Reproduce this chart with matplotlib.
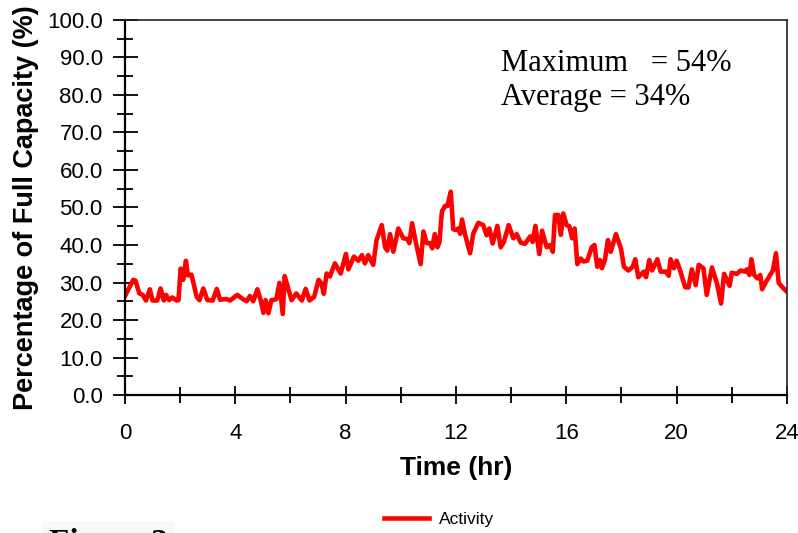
import matplotlib
matplotlib.use('Agg')
import matplotlib.pyplot as plt
from matplotlib.ticker import MultipleLocator

# activity values (hour, % of full capacity)
hours = [0.0, 0.3, 0.38, 0.52, 0.64, 0.76, 0.9, 1.0, 1.17, 1.29, 1.41, 1.49, 1.6, 1.72,
         1.87, 1.94, 2.02, 2.11, 2.21, 2.28, 2.41, 2.6, 2.7, 2.84, 2.99, 3.18, 3.33, 3.45,
         3.67, 3.81, 4.07, 4.27, 4.41, 4.53, 4.65, 4.8, 4.92, 5.02, 5.1, 5.2, 5.31, 5.43,
         5.49, 5.6, 5.72, 5.79, 5.92, 6.04, 6.21, 6.41, 6.55, 6.69, 6.86, 7.02, 7.12, 7.21,
         7.31, 7.43, 7.61, 7.82, 8.01, 8.1, 8.3, 8.46, 8.59, 8.7, 8.82, 9.0, 9.12, 9.31,
         9.43, 9.51, 9.61, 9.73, 9.91, 10.09, 10.24, 10.31, 10.41, 10.55, 10.72, 10.82,
         10.94, 11.06, 11.14, 11.23, 11.33, 11.4, 11.49, 11.6, 11.69, 11.81, 11.9, 12.0,
         12.09, 12.15, 12.22, 12.33, 12.51, 12.63, 12.81, 12.99, 13.11, 13.21, 13.33, 13.5,
         13.62, 13.74, 13.91, 14.08, 14.2, 14.35, 14.5, 14.69, 14.78, 14.88, 15.02, 15.12,
         15.29, 15.41, 15.51, 15.59, 15.71, 15.8, 15.89, 16.01, 16.11, 16.21, 16.3, 16.4,
         16.52, 16.62, 16.76, 16.92, 17.02, 17.12, 17.22, 17.29, 17.4, 17.51, 17.61, 17.8,
         17.98, 18.09, 18.25, 18.41, 18.5, 18.61, 18.81, 18.89, 19.01, 19.11, 19.3, 19.42,
         19.61, 19.71, 19.78, 19.9, 20.0, 20.14, 20.31, 20.43, 20.55, 20.69, 20.8, 20.97,
         21.09, 21.28, 21.46, 21.61, 21.72, 21.92, 22.0, 22.18, 22.32, 22.48, 22.54, 22.64,
         22.71, 22.81, 22.93, 23.03, 23.1, 23.24, 23.49, 23.6, 23.7, 23.84, 23.96]
activity = [26.4, 30.7, 30.5, 27.1, 26.7, 25.2, 28.2, 25.2, 25.2, 28.4, 25.2, 26.7, 25.3, 26.0,
            25.2, 25.3, 33.7, 30.7, 35.8, 31.9, 32.1, 26.2, 25.3, 28.4, 25.3, 25.2, 28.3, 25.4,
            25.6, 25.2, 26.7, 25.6, 25.0, 26.4, 25.0, 28.2, 25.3, 21.9, 25.3, 21.8, 25.3, 25.4,
            25.6, 29.9, 21.6, 31.7, 28.3, 25.3, 27.1, 25.2, 28.3, 25.2, 26.2, 30.7, 29.8, 27.0,
            32.4, 31.6, 35.1, 32.4, 37.6, 33.5, 36.9, 35.8, 37.3, 35.1, 37.3, 34.7, 41.3, 45.3,
            39.4, 38.5, 42.9, 38.2, 44.4, 41.8, 41.6, 40.5, 45.8, 40.5, 34.9, 43.6,
            40.5, 40.5, 39.1, 42.9, 39.4, 40.8, 48.9, 50.4, 50.4, 54.2, 44.2, 44.0,
            44.4, 43.0, 46.8, 42.8, 37.8, 43.1, 45.9, 45.3, 42.6, 44.4, 40.4, 45.1,
            39.4, 40.9, 45.3, 41.8, 42.9, 40.6, 40.3, 42.3, 40.8, 45.1, 37.6, 43.8,
            39.4, 40.0, 38.2, 48.0, 48.0, 42.7, 48.4, 45.3, 45.0, 41.8, 44.4, 34.9,
            36.4, 35.6, 35.8, 39.4, 40.0, 34.2, 36.0, 33.8, 36.0, 41.3, 38.2, 42.9,
            39.1, 34.2, 33.2, 34.2, 36.2, 31.4, 32.9, 31.4, 36.0, 33.2, 36.2, 32.9,
            32.9, 31.8, 36.2, 33.8, 35.8, 32.9, 28.7, 28.7, 33.5, 29.3, 34.7, 33.8,
            26.7, 34.0, 29.8, 24.4, 32.3, 29.1, 32.6, 32.3, 33.2, 32.9, 33.5, 32.0,
            36.2, 32.0, 31.1, 32.0, 28.2, 30.2, 33.2, 37.8, 29.9, 28.7, 27.8]

max_text = "Maximum   = 54%"
avg_text = "Average = 34%"

fig = plt.figure(figsize=(7.98, 5.33), dpi=100)
ax = fig.add_axes([0.1566, 0.2589, 0.8296, 0.7036])

ax.plot(hours, activity, color='#ff0000', lw=3.3, label='Activity',
        solid_joinstyle='round')

ax.set_xlim(0, 24)
ax.set_ylim(0, 100)
ax.xaxis.set_major_locator(MultipleLocator(4))
ax.xaxis.set_minor_locator(MultipleLocator(2))
ax.yaxis.set_major_locator(MultipleLocator(10))
ax.yaxis.set_minor_locator(MultipleLocator(5))
ax.set_yticklabels([f"{v:.1f}" for v in ax.get_yticks()])

ax.tick_params(axis='y', which='major', direction='inout', length=18, width=1.3,
               labelsize=16, pad=7)
ax.tick_params(axis='y', which='minor', direction='inout', length=12, width=1.3)
ax.tick_params(axis='x', which='major', direction='inout', length=13, width=1.3,
               labelsize=16, pad=14)
ax.tick_params(axis='x', which='minor', direction='inout', length=11, width=1.3)
for lab in ax.get_xticklabels() + ax.get_yticklabels():
    lab.set_fontfamily('Liberation Sans')

for s in ['left', 'bottom']:
    ax.spines[s].set_linewidth(1.6)
    ax.spines[s].set_color('black')
for s in ['top', 'right']:
    ax.spines[s].set_linewidth(1.2)
    ax.spines[s].set_color('#222222')

ax.set_xlabel('Time (hr)', fontsize=19, fontweight='bold', family='Liberation Sans',
              labelpad=8)
ax.set_ylabel('Percentage of Full Capacity (%)', fontsize=19.5, fontweight='bold',
              family='Liberation Sans', labelpad=6)

# stats box text, baselines placed in pixel terms
ax.text(0.568, (395 - 71) / 375, max_text, transform=ax.transAxes, va='baseline',
        ha='left', fontsize=22, family='Liberation Serif')
ax.text(0.568, (395 - 105) / 375, avg_text, transform=ax.transAxes, va='baseline',
        ha='left', fontsize=22, family='Liberation Serif')

fig.legend(loc='center', bbox_to_anchor=(0.55, 0.026), frameon=False,
           prop={'family': 'Liberation Sans', 'size': 12.5}, handlelength=2.6,
           handletextpad=0.6)

fig.text(0.062, 1 - 528 / 533, 'Figure 3', fontsize=24, fontweight='bold',
         family='Liberation Serif', va='top', ha='left',
         bbox=dict(facecolor='#f8f8f6', edgecolor='none', pad=5))

fig.savefig('out.png', dpi=100)
